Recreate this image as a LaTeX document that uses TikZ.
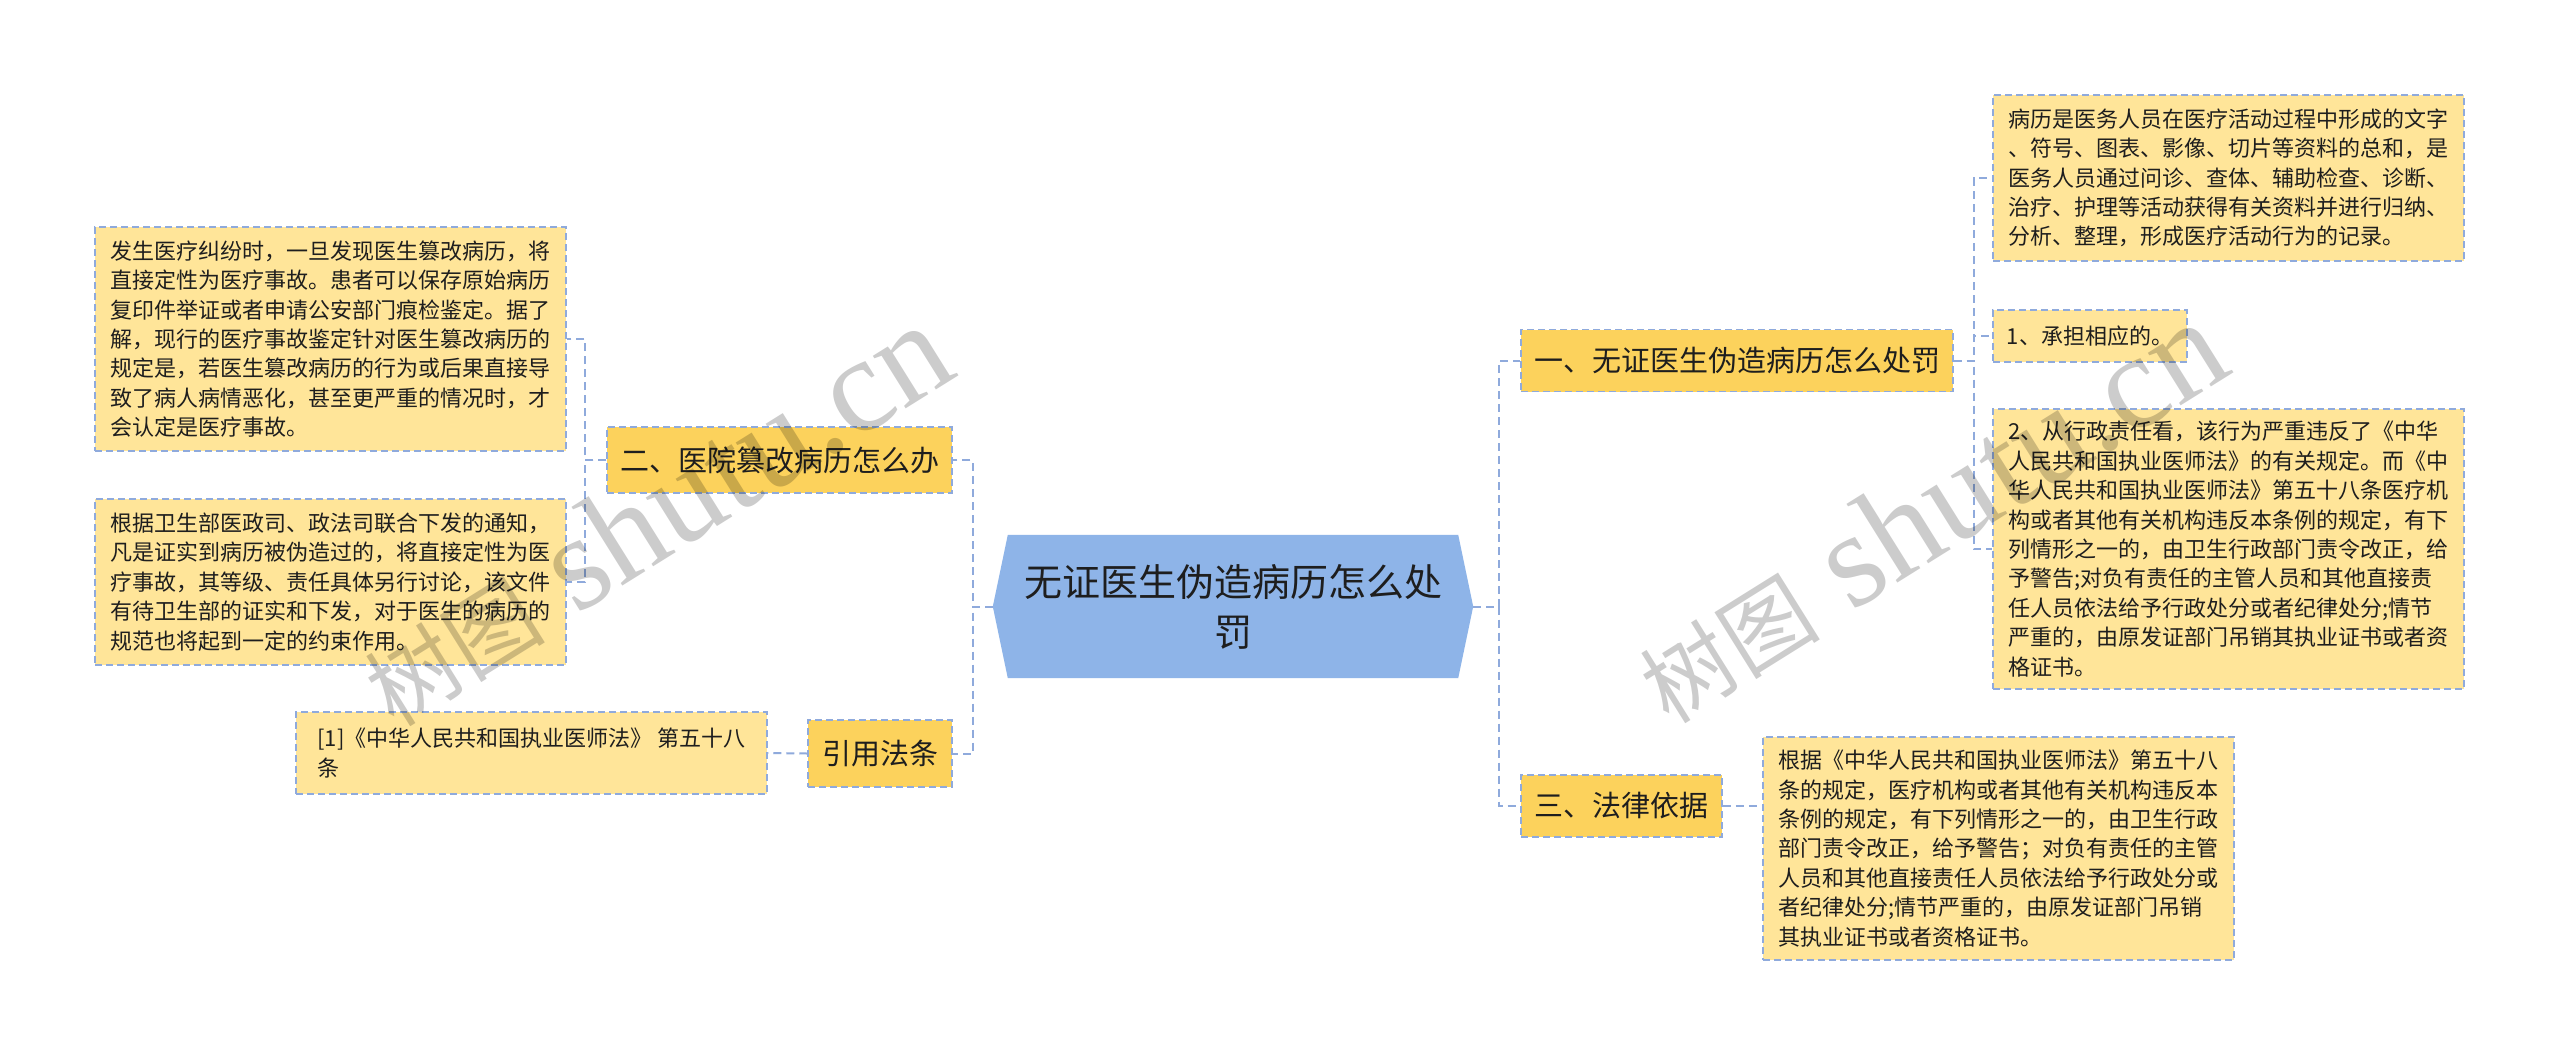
\documentclass[tikz,border=0pt]{standalone}
\usepackage{fontspec}
\setmainfont{Noto Sans CJK SC}
\newfontfamily\wmserif{Liberation Serif}
\newfontfamily\wmcjk{Noto Sans CJK SC}
\usetikzlibrary{calc}
\pgfdeclarelayer{background}
\pgfdeclarelayer{canvas}
\pgfsetlayers{canvas,background,main}
\definecolor{linec}{RGB}{143,170,220}
\definecolor{branchc}{RGB}{252,210,92}
\definecolor{leafc}{RGB}{255,229,153}
\definecolor{rootc}{RGB}{142,180,232}
\definecolor{txtc}{RGB}{30,30,30}
\begin{document}
\begin{tikzpicture}[x=1pt,y=-1pt,
  box/.style={draw=linec, line width=1.5pt, dash pattern=on 7pt off 4pt, inner sep=0pt, text=txtc, anchor=center},
  branchbox/.style={box, fill=branchc, font=\fontsize{29}{36}\selectfont},
  leafbox/.style={box, fill=leafc, align=left, font=\fontsize{22}{29.4}\selectfont},
  conn/.style={draw=linec, line width=2pt, dash pattern=on 8pt off 5pt},
  wm/.style={text=black, opacity=0.2, rotate=32, inner sep=0pt}
]
\useasboundingbox (0,0) rectangle (2560,1058);
\begin{pgfonlayer}{canvas}
\fill[white] (0,0) rectangle (2560,1058);
\end{pgfonlayer}

% root
\node[font=\fontsize{38}{50}\selectfont, text=txtc, align=center, minimum width=480pt, minimum height=143pt, inner sep=0pt] (root) at (1233,606.5) {无证医生伪造病历怎么处\\罚};
\begin{pgfonlayer}{background}
\fill[rootc] (root.west) -- ([xshift=15pt]root.north west) -- ([xshift=-15pt]root.north east) -- (root.east) -- ([xshift=-15pt]root.south east) -- ([xshift=15pt]root.south west) -- cycle;
\end{pgfonlayer}

% left branches
\node[branchbox, minimum width=345pt, minimum height=66pt] (b2) at (779.5,460) {二、医院篡改病历怎么办};
\node[branchbox, minimum width=144pt, minimum height=67pt] (cite) at (880,753.5) {引用法条};

\node[leafbox, minimum width=471pt, minimum height=224pt] (l1) at (330.5,339) {发生医疗纠纷时，一旦发现医生篡改病历，将\\直接定性为医疗事故。患者可以保存原始病历\\复印件举证或者申请公安部门痕检鉴定。据了\\解，现行的医疗事故鉴定针对医生篡改病历的\\规定是，若医生篡改病历的行为或后果直接导\\致了病人病情恶化，甚至更严重的情况时，才\\会认定是医疗事故。};
\node[leafbox, minimum width=471pt, minimum height=166pt] (l2) at (330.5,582) {根据卫生部医政司、政法司联合下发的通知，\\凡是证实到病历被伪造过的，将直接定性为医\\疗事故，其等级、责任具体另行讨论，该文件\\有待卫生部的证实和下发，对于医生的病历的\\规范也将起到一定的约束作用。};
\node[leafbox, minimum width=471pt, minimum height=82pt] (lc) at (531.5,753) {[1]《中华人民共和国执业医师法》 第五十八\\条};

% right branches
\node[branchbox, minimum width=432pt, minimum height=62pt] (b1) at (1737,360.5) {一、无证医生伪造病历怎么处罚};
\node[branchbox, minimum width=201pt, minimum height=62pt] (b3) at (1621.5,806) {三、法律依据};

\node[leafbox, minimum width=471pt, minimum height=166pt] (la) at (2228.5,178) {病历是医务人员在医疗活动过程中形成的文字\\、符号、图表、影像、切片等资料的总和，是\\医务人员通过问诊、查体、辅助检查、诊断、\\治疗、护理等活动获得有关资料并进行归纳、\\分析、整理，形成医疗活动行为的记录。};
\node[leafbox, minimum width=194pt, minimum height=52pt] (lb) at (2090,336) {1、承担相应的。};
\node[leafbox, minimum width=471pt, minimum height=280pt] (lcc) at (2228.5,549) {2、从行政责任看，该行为严重违反了《中华\\人民共和国执业医师法》的有关规定。而《中\\华人民共和国执业医师法》第五十八条医疗机\\构或者其他有关机构违反本条例的规定，有下\\列情形之一的，由卫生行政部门责令改正，给\\予警告;对负有责任的主管人员和其他直接责\\任人员依法给予行政处分或者纪律处分;情节\\严重的，由原发证部门吊销其执业证书或者资\\格证书。};
\node[leafbox, minimum width=471pt, minimum height=223pt] (ld) at (1998.5,848.5) {根据《中华人民共和国执业医师法》第五十八\\条的规定，医疗机构或者其他有关机构违反本\\条例的规定，有下列情形之一的，由卫生行政\\部门责令改正，给予警告；对负有责任的主管\\人员和其他直接责任人员依法给予行政处分或\\者纪律处分;情节严重的，由原发证部门吊销\\其执业证书或者资格证书。};

% connectors
\begin{pgfonlayer}{background}
\draw[conn] (root.west) -- ++(-20,0) |- (b2.east);
\draw[conn] (root.west) -- ++(-20,0) |- (cite.east);
\draw[conn] (b2.west) -- ++(-21,0) |- (l1.east);
\draw[conn] (b2.west) -- ++(-21,0) |- (l2.east);
\draw[conn] (cite.west) -- (lc.east);
\draw[conn] (root.east) -- ++(26,0) |- (b1.west);
\draw[conn] (root.east) -- ++(26,0) |- (b3.west);
\draw[conn] (b1.east) -- ++(20,0) |- (la.west);
\draw[conn] (b1.east) -- ++(20,0) |- (lb.west);
\draw[conn] (b1.east) -- ++(20,0) |- (lcc.west);
\draw[conn] (b3.east) -- (b3.east -| ld.west);
\end{pgfonlayer}

% watermarks
\node[wm] (wm1) at (655,515) {{\wmcjk\fontsize{90}{90}\selectfont 树图}{\wmserif\fontsize{135}{135}\selectfont\ shutu.cn}};
\node[wm] (wm2) at (1930,512) {{\wmcjk\fontsize{90}{90}\selectfont 树图}{\wmserif\fontsize{135}{135}\selectfont\ shutu.cn}};
\end{tikzpicture}
\end{document}
